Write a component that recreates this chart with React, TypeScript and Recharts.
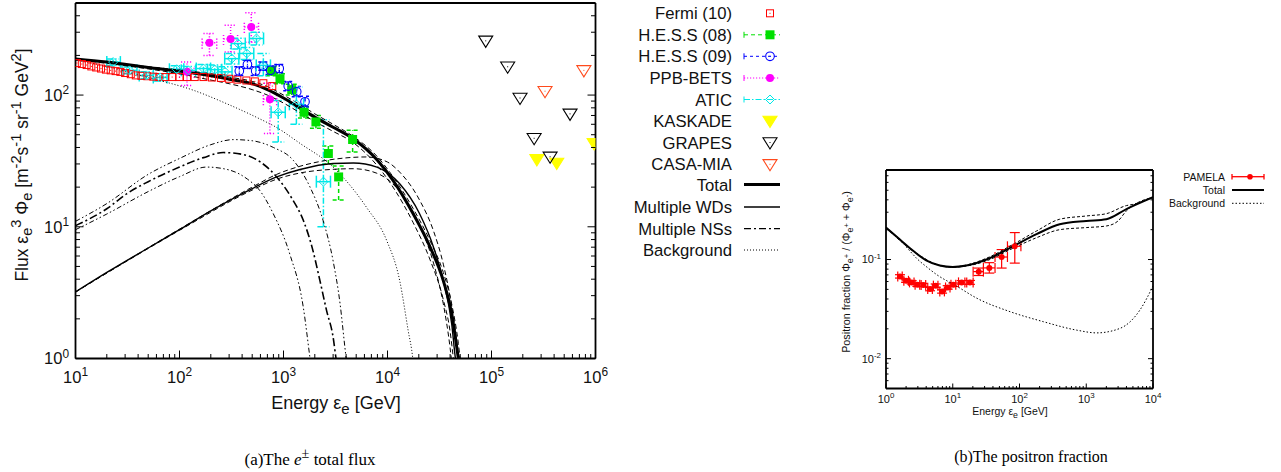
import React from 'react'
import { ComposedChart, Line, Scatter, XAxis, YAxis, ErrorBar } from 'recharts'

const FONT = '"Liberation Sans", Arial, Helvetica, sans-serif'
const SERIF = '"Liberation Serif", "DejaVu Serif", serif'

// ---------------- left panel: e+- total flux ----------------
const fluxXMajor = [10, 100, 1e3, 1e4, 1e5, 1e6]
const fluxYMajor = [1, 10, 100]

const fermiE = [10.3, 11.5, 12.8, 14.2, 15.8, 17.6, 19.6, 21.8, 24.3, 27, 30, 34, 38, 43, 49, 56, 64, 73, 85, 100, 118, 140, 170, 205, 250, 300, 360, 440, 530, 640, 780]
const fermiF = [175, 172, 169, 165, 162, 159, 156, 154, 152, 150, 147, 144, 141, 140, 139, 138, 137, 137, 137, 137, 137, 137, 137, 136, 135, 133, 131, 129, 127, 123, 117]

const hess08E = [770, 925, 1200, 1575, 2050, 2700, 3390, 4620]
const hess08F = [152, 133, 110, 74, 62.5, 36, 23.9, 46]
const hess08Lo = [140, 122, 100, 67, 56, 30, 16, 37]
const hess08Hi = [165, 145, 121, 82, 70, 41, 29, 54]

const hess09E = [376, 450, 540, 640, 750, 910, 1110, 1340, 1610]
const hess09F = [152, 171, 152, 166, 154, 159, 117, 106, 89]
const hess09Lo = [141, 159, 141, 154, 143, 148, 108, 97, 81]
const hess09Hi = [164, 184, 164, 178, 166, 171, 127, 116, 98]

const ppbE = [118, 194, 310, 490, 740]
const ppbF = [150, 250, 266, 329, 93]
const ppbLo = [118, 200, 212, 252, 51]
const ppbHi = [178, 293, 339, 421, 123]
const ppbELo = [100, 165, 265, 420, 640]
const ppbEHi = [138, 228, 362, 575, 860]

const aticE = [23, 33, 48, 65, 94, 122, 170, 218, 274, 318, 367, 443, 550, 640, 890, 1330, 2420]
const aticF = [178, 154, 141, 136, 157, 154, 159, 156, 150, 189, 246, 207, 269, 168, 74, 85, 22]
const aticLo = [168, 145, 133, 128, 148, 144, 148, 144, 137, 172, 224, 186, 240, 140, 44, 60, 10]
const aticHi = [188, 163, 150, 145, 167, 165, 171, 169, 164, 207, 270, 230, 300, 207, 91, 115, 65]
const aticELo = [20, 28, 41, 56, 80, 104, 145, 186, 234, 272, 314, 378, 470, 547, 760, 1140, 2070]
const aticEHi = [27, 39, 56, 76, 110, 143, 199, 255, 320, 372, 429, 518, 643, 749, 1040, 1560, 2830]

const kaskadeE = [273000, 424000, 970000]
const kaskadeF = [32.5, 30.5, 43]
const grapesE = [88000, 143000, 188000, 257000, 366000, 569000]
const grapesF = [258, 164, 95, 47, 34, 72]
const casaE = [327000, 773000]
const casaF = [107, 154]

const total = [[10, 188], [20, 178], [50, 162], [100, 152], [200, 140], [300, 132], [500, 122], [700, 110], [1000, 95], [1500, 78], [2000, 68], [3000, 57], [4600, 47], [8000, 32], [11300, 22.5], [17600, 12.6], [25700, 7.0], [34400, 3.9], [41400, 2.2], [48000, 1.0], [50000, 0.8]]
const totalLow = [[10, 186], [50, 158], [100, 145], [200, 130], [300, 122], [500, 110], [700, 100], [1000, 87], [1500, 72], [2000, 63], [3000, 53], [4600, 44], [8000, 29], [11300, 20], [17600, 10.8], [25700, 5.6], [34400, 2.8], [40000, 1.6], [43000, 1.0], [44000, 0.85]]
const totalUp = [[10, 189], [50, 164], [100, 155], [200, 145], [300, 137], [500, 127], [700, 116], [1000, 100], [1500, 83], [2000, 72], [3000, 60], [4600, 49], [8000, 34], [11300, 24], [17600, 13.8], [25700, 7.8], [34400, 4.5], [41400, 2.6], [48000, 1.3], [51000, 0.85]]
const wd = [[10, 3.2], [20, 4.5], [50, 6.9], [100, 9.5], [200, 13.2], [500, 19.5], [860, 23.9], [1440, 27.2], [3000, 30.2], [4700, 30.5], [7900, 28.4], [13100, 21.2], [20300, 12.6], [27700, 7.0], [34400, 3.9], [41400, 1.84], [45000, 1.0], [47000, 0.8]]
const wdUp = [[10, 3.2], [100, 9.6], [500, 20], [860, 25], [1440, 28.8], [3000, 32.5], [6300, 33.9], [10000, 31], [13100, 26], [20300, 16], [27700, 9.3], [34400, 5.2], [41400, 2.5], [47000, 1.2], [49000, 0.85]]
const wdLow = [[10, 3.2], [100, 9.4], [500, 19], [860, 23], [1440, 25.6], [3000, 27.3], [4700, 27.6], [7900, 25.5], [13100, 18.5], [20300, 10.3], [27700, 5.3], [34400, 2.6], [40000, 1.2], [42000, 0.85]]
const ns = [[10, 10.2], [20, 13.7], [31, 17.8], [50, 22], [100, 28.4], [170, 33.5], [264, 36.6], [400, 35.5], [600, 31], [860, 23.9], [1200, 16.5], [1550, 11.2], [1900, 6.8], [2240, 3.9], [2600, 2.3], [3000, 1.45], [3200, 1.0], [3300, 0.85]]
const nsUp = [[10, 11], [20, 15], [50, 25], [100, 33], [200, 42], [330, 45.9], [500, 45], [800, 40], [1240, 32], [1800, 20], [2400, 11.2], [3000, 5.5], [3500, 2.6], [3900, 1.2], [4100, 0.85]]
const nsLow = [[10, 9.5], [20, 12.5], [50, 18.5], [100, 24], [182, 28.4], [300, 27], [450, 23], [590, 18.9], [800, 12.5], [1150, 6.2], [1550, 2.45], [1800, 1.0], [1850, 0.85]]
const background = [[10, 184], [20, 165], [31, 150], [65, 129], [135, 109], [284, 86], [590, 66], [850, 57], [1440, 43], [3000, 28.4], [6300, 14], [9800, 7.9], [13100, 3.9], [15800, 1.63], [17500, 1.0], [18000, 0.8]]

// ---------------- right panel: positron fraction ----------------
const fracXMajor = [1, 10, 100, 1e3, 1e4]
const fracYMajor = [0.001, 0.01, 0.1]

const pamelaE = [1.62, 2.0, 2.43, 2.95, 3.63, 4.57, 5.55, 6.92, 8.4, 10.2, 13.6, 18.1, 24.5, 35.3, 54, 85]
const pamelaF = [0.0676, 0.061, 0.0588, 0.0557, 0.0553, 0.0503, 0.0545, 0.0477, 0.0523, 0.0557, 0.0588, 0.0588, 0.0755, 0.0823, 0.106, 0.136]
const pamelaLo = [0.065, 0.0588, 0.0566, 0.0536, 0.0532, 0.0484, 0.0524, 0.0458, 0.0502, 0.0535, 0.0564, 0.0562, 0.069, 0.073, 0.082, 0.092]
const pamelaHi = [0.0703, 0.0634, 0.0611, 0.0579, 0.0575, 0.0523, 0.0567, 0.0496, 0.0545, 0.058, 0.0613, 0.0615, 0.082, 0.093, 0.126, 0.187]
const pamelaELo = [1.5, 1.85, 2.25, 2.73, 3.36, 4.22, 5.13, 6.4, 7.8, 9.4, 12.2, 16.2, 20.2, 28.8, 43, 66]
const pamelaEHi = [1.75, 2.17, 2.63, 3.2, 3.93, 4.95, 6.0, 7.5, 9.1, 11.1, 15.2, 20.2, 28.8, 43, 66, 105]

const fracTotal = [[1, 0.21], [1.6, 0.16], [2.6, 0.121], [4, 0.098], [6.4, 0.087], [10, 0.084], [16, 0.087], [32, 0.1], [80, 0.136], [180, 0.18], [400, 0.227], [1000, 0.245], [2000, 0.255], [4000, 0.323], [10000, 0.425]]
const fracUp = [[1, 0.21], [2.6, 0.121], [6.4, 0.087], [10, 0.084], [16, 0.088], [32, 0.103], [80, 0.142], [180, 0.194], [400, 0.255], [1000, 0.275], [2000, 0.29], [4000, 0.35], [5000, 0.36], [10000, 0.425]]
const fracLow = [[1, 0.21], [2.6, 0.121], [6.4, 0.087], [10, 0.084], [16, 0.086], [32, 0.097], [80, 0.13], [180, 0.166], [400, 0.2], [1000, 0.21], [2000, 0.218], [3000, 0.245], [4000, 0.31], [5000, 0.35], [10000, 0.425]]
const fracBg = [[1, 0.21], [1.6, 0.16], [2.3, 0.121], [3, 0.1], [4, 0.085], [5.75, 0.0704], [11.5, 0.0538], [22.8, 0.0408], [72, 0.0298], [228, 0.0236], [719, 0.0194], [1435, 0.0182], [3200, 0.0202], [6380, 0.031], [10000, 0.054]]

// ---------------- helpers ----------------
const xy = (a: number[][]) => a.map(([x, y]) => ({ x, y }))
const pts = (E: number[], F: number[], lo?: number[], hi?: number[], el?: number[], eh?: number[]) =>
  E.map((x, i) => ({
    x,
    y: F[i],
    ey: lo && hi ? [F[i] - lo[i], hi[i] - F[i]] : [0, 0],
    ex: el && eh ? [x - el[i], eh[i] - x] : [0, 0],
  }))

const logTicks = (majors: number[], lo: number, hi: number) => {
  const out: number[] = []
  majors.forEach((m) => {
    for (let k = 1; k < 10; k++) {
      const v = m * k
      if (v >= lo * 0.9999 && v <= hi * 1.0001) out.push(v)
    }
  })
  return out
}

function LogTick(props: any) {
  const { x, y, payload, side, big, small, fs, gap } = props
  const lg = Math.log10(payload.value)
  const major = Math.abs(lg - Math.round(lg)) < 1e-6
  const len = major ? big : small
  const e = Math.round(lg)
  const sup = (
    <tspan dy={-fs * 0.42} fontSize={fs * 0.72}>
      {e}
    </tspan>
  )
  const txt = { fontSize: fs, fontFamily: FONT, fill: '#111' }
  if (side === 'bottom')
    return (
      <g>
        <line x1={x} x2={x} y1={y} y2={y - len} stroke="#000" />
        {major && <text x={x} y={y + gap} textAnchor="middle" {...txt}>10{sup}</text>}
      </g>
    )
  if (side === 'left')
    return (
      <g>
        <line x1={x} x2={x + len} y1={y} y2={y} stroke="#000" />
        {major && <text x={x - gap} y={y + fs * 0.36} textAnchor="end" {...txt}>10{sup}</text>}
      </g>
    )
  if (side === 'top') return <line x1={x} x2={x} y1={y} y2={y + len} stroke="#000" />
  return <line x1={x} x2={x - len} y1={y} y2={y} stroke="#000" />
}

const tick = (side: string, big: number, small: number, fs = 0, gap = 0) => (p: any) =>
  <LogTick {...p} side={side} big={big} small={small} fs={fs} gap={gap} />

// markers
const sqOpen = (cx: number, cy: number, c: string) => (
  <g>
    <rect x={cx - 3.5} y={cy - 3.5} width={7} height={7} fill="none" stroke={c} strokeWidth={1} />
    <rect x={cx - 0.5} y={cy - 0.5} width={1} height={1} fill={c} />
  </g>
)
const sqFill = (cx: number, cy: number, c: string) => <rect x={cx - 4.5} y={cy - 4.5} width={9} height={9} fill={c} />
const circOpen = (cx: number, cy: number, c: string) => (
  <g>
    <circle cx={cx} cy={cy} r={4.3} fill="none" stroke={c} strokeWidth={1.1} />
    <rect x={cx - 0.5} y={cy - 0.5} width={1} height={1} fill={c} />
  </g>
)
const circFill = (cx: number, cy: number, c: string, r = 4) => <circle cx={cx} cy={cy} r={r} fill={c} />
const diamond = (cx: number, cy: number, c: string) => (
  <g>
    <path d={`M${cx} ${cy - 4.5}L${cx + 4.5} ${cy}L${cx} ${cy + 4.5}L${cx - 4.5} ${cy}Z`} fill="none" stroke={c} strokeWidth={1} />
    <rect x={cx - 0.5} y={cy - 0.5} width={1} height={1} fill={c} />
  </g>
)
const triDown = (cx: number, cy: number, c: string, filled: boolean) => (
  <g>
    <path d={`M${cx - 7} ${cy - 4.7}L${cx + 7} ${cy - 4.7}L${cx} ${cy + 6.5}Z`} fill={filled ? c : 'none'} stroke={c} strokeWidth={1.1} />
    {!filled && <rect x={cx - 0.5} y={cy - 0.5} width={1} height={1} fill={c} />}
  </g>
)

const RED = '#ff0000'
const GREEN = '#00e000'
const BLUE = '#0000ff'
const MAGENTA = '#ff00ff'
const CYAN = '#00e8e8'
const YELLOW = '#ffff00'
const ORANGE = '#ff4a1c'

const legendLeft = [
  { label: 'Fermi (10)', kind: 'fermi' },
  { label: 'H.E.S.S (08)', kind: 'hess08' },
  { label: 'H.E.S.S (09)', kind: 'hess09' },
  { label: 'PPB-BETS', kind: 'ppb' },
  { label: 'ATIC', kind: 'atic' },
  { label: 'KASKADE', kind: 'kaskade' },
  { label: 'GRAPES', kind: 'grapes' },
  { label: 'CASA-MIA', kind: 'casa' },
  { label: 'Total', kind: 'total' },
  { label: 'Multiple WDs', kind: 'wd' },
  { label: 'Multiple NSs', kind: 'ns' },
  { label: 'Background', kind: 'bg' },
]
const legendLeftY = [13.3, 34.8, 56.3, 78, 99.5, 121, 142.5, 164.3, 184.5, 207, 228.7, 250]

function legendSymbol(kind: string, y: number) {
  const x0 = 744, x1 = 780, m = 770
  const bar = (c: string, dash: string) => (
    <g stroke={c} strokeWidth={1}>
      <line x1={x0} x2={x1} y1={y} y2={y} strokeDasharray={dash} />
      <line x1={x0} x2={x0} y1={y - 3} y2={y + 3} />
    </g>
  )
  switch (kind) {
    case 'fermi': return sqOpen(m, y, RED)
    case 'hess08': return <g>{bar(GREEN, '4 3')}{sqFill(m, y, GREEN)}</g>
    case 'hess09': return <g>{bar(BLUE, '3 3')}{circOpen(m, y, BLUE)}</g>
    case 'ppb': return <g>{bar(MAGENTA, '1.2 1.8')}{circFill(m, y, MAGENTA)}</g>
    case 'atic': return <g>{bar(CYAN, '6 2 1.5 2')}{diamond(m, y, CYAN)}</g>
    case 'kaskade': return triDown(m, y, YELLOW, true)
    case 'grapes': return triDown(m, y, '#000', false)
    case 'casa': return triDown(m, y, ORANGE, false)
    case 'total': return <line x1={x0} x2={x1} y1={y} y2={y} stroke="#000" strokeWidth={2.8} />
    case 'wd': return <line x1={x0} x2={x1} y1={y} y2={y} stroke="#000" strokeWidth={1.3} />
    case 'ns': return <line x1={x0} x2={x1} y1={y} y2={y} stroke="#000" strokeWidth={1.3} strokeDasharray="7 3 2 3" />
    default: return <line x1={x0} x2={x1} y1={y} y2={y} stroke="#000" strokeWidth={1} strokeDasharray="1 2" />
  }
}

const line = (data: number[][], width: number, dash?: string, key?: string) => (
  <Line
    key={key}
    data={xy(data)}
    dataKey="y"
    xAxisId="b"
    yAxisId="l"
    type="monotone"
    stroke="#000"
    strokeWidth={width}
    strokeDasharray={dash}
    dot={false}
    activeDot={false}
    isAnimationActive={false}
  />
)

export default function App() {
  const fluxXTicks = logTicks(fluxXMajor, 10, 1e6)
  const fluxYTicks = logTicks(fluxYMajor, 1, 500)
  const fracXTicks = logTicks(fracXMajor, 1, 1e4)
  const fracYTicks = logTicks(fracYMajor, 0.005, 0.8)
  const axisLine = { stroke: '#000', strokeWidth: 1.8 }

  return (
    <div style={{ position: 'absolute', left: 0, top: 0, width: 1281, height: 472, background: '#fff', fontFamily: FONT }}>
      {/* left chart */}
      <div style={{ position: 'absolute', left: 0, top: 0 }}>
        <ComposedChart width={620} height={420} margin={{ top: 2, right: 23.5, bottom: 1.5, left: 0 }}>
          <XAxis xAxisId="b" dataKey="x" type="number" scale="log" domain={[10, 1e6]} allowDataOverflow ticks={fluxXTicks} interval={0} height={60} tickSize={0} tickMargin={0} tickLine={false} axisLine={axisLine} tick={tick('bottom', 8, 4.5, 16.5, 24.5)} />
          <XAxis xAxisId="t" orientation="top" type="number" scale="log" domain={[10, 1e6]} allowDataOverflow ticks={fluxXTicks} interval={0} height={1} tickSize={0} tickMargin={0} tickLine={false} axisLine={axisLine} tick={tick('top', 8, 4.5)} />
          <YAxis yAxisId="l" dataKey="y" type="number" scale="log" domain={[1, 500]} allowDataOverflow ticks={fluxYTicks} interval={0} width={75.5} tickSize={0} tickMargin={0} tickLine={false} axisLine={axisLine} tick={tick('left', 8, 4.5, 16.5, 6.5)} />
          <YAxis yAxisId="r" orientation="right" type="number" scale="log" domain={[1, 500]} allowDataOverflow ticks={fluxYTicks} interval={0} width={1} tickSize={0} tickMargin={0} tickLine={false} axisLine={axisLine} tick={tick('right', 8, 4.5)} />

          <Scatter data={pts(fermiE, fermiF)} xAxisId="b" yAxisId="l" isAnimationActive={false} shape={(p: any) => sqOpen(p.cx, p.cy, RED)} />
          <Scatter data={pts(hess08E, hess08F, hess08Lo, hess08Hi)} xAxisId="b" yAxisId="l" isAnimationActive={false} shape={(p: any) => sqFill(p.cx, p.cy, GREEN)}>
            <ErrorBar dataKey="ey" direction="y" width={6} stroke={GREEN} strokeDasharray="4 3" isAnimationActive={false} />
          </Scatter>
          <Scatter data={pts(hess09E, hess09F, hess09Lo, hess09Hi)} xAxisId="b" yAxisId="l" isAnimationActive={false} shape={(p: any) => circOpen(p.cx, p.cy, BLUE)}>
            <ErrorBar dataKey="ey" direction="y" width={5} stroke={BLUE} strokeDasharray="3 3" isAnimationActive={false} />
          </Scatter>
          <Scatter data={pts(ppbE, ppbF, ppbLo, ppbHi, ppbELo, ppbEHi)} xAxisId="b" yAxisId="l" isAnimationActive={false} shape={(p: any) => circFill(p.cx, p.cy, MAGENTA)}>
            <ErrorBar dataKey="ey" direction="y" width={6} stroke={MAGENTA} strokeDasharray="1.2 1.8" isAnimationActive={false} />
            <ErrorBar dataKey="ex" direction="x" width={6} stroke={MAGENTA} strokeDasharray="1.2 1.8" isAnimationActive={false} />
          </Scatter>
          <Scatter data={pts(aticE, aticF, aticLo, aticHi, aticELo, aticEHi)} xAxisId="b" yAxisId="l" isAnimationActive={false} shape={(p: any) => diamond(p.cx, p.cy, CYAN)}>
            <ErrorBar dataKey="ey" direction="y" width={6} stroke={CYAN} strokeDasharray="6 2 1.5 2" isAnimationActive={false} />
            <ErrorBar dataKey="ex" direction="x" width={6} stroke={CYAN} isAnimationActive={false} />
          </Scatter>
          <Scatter data={pts(kaskadeE, kaskadeF)} xAxisId="b" yAxisId="l" isAnimationActive={false} shape={(p: any) => triDown(p.cx, p.cy, YELLOW, true)} />
          <Scatter data={pts(grapesE, grapesF)} xAxisId="b" yAxisId="l" isAnimationActive={false} shape={(p: any) => triDown(p.cx, p.cy, '#000', false)} />
          <Scatter data={pts(casaE, casaF)} xAxisId="b" yAxisId="l" isAnimationActive={false} shape={(p: any) => triDown(p.cx, p.cy, ORANGE, false)} />

          {line(background, 1, '1 2', 'bg')}
          {line(nsUp, 1, '5 2.5 1.5 2.5 1.5 2.5', 'nsu')}
          {line(nsLow, 1, '5 2.5 1.5 2.5 1.5 2.5', 'nsl')}
          {line(ns, 1.6, '8 3 2 3', 'ns')}
          {line(wdUp, 1, '5 3', 'wdu')}
          {line(wdLow, 1, '5 3', 'wdl')}
          {line(wd, 1.4, undefined, 'wd')}
          {line(totalUp, 1, '5 3', 'tu')}
          {line(totalLow, 1, '5 3', 'tl')}
          {line(total, 3, undefined, 'tot')}
        </ComposedChart>
      </div>

      {/* right chart */}
      <div style={{ position: 'absolute', left: 820, top: 150 }}>
        <ComposedChart width={460} height={270} margin={{ top: 19, right: 126, bottom: 1.5, left: 0 }}>
          <XAxis xAxisId="b" dataKey="x" type="number" scale="log" domain={[1, 1e4]} allowDataOverflow ticks={fracXTicks} interval={0} height={30} tickSize={0} tickMargin={0} tickLine={false} axisLine={axisLine} tick={tick('bottom', 5, 2.5, 11, 14)} />
          <XAxis xAxisId="t" orientation="top" type="number" scale="log" domain={[1, 1e4]} allowDataOverflow ticks={fracXTicks} interval={0} height={1} tickSize={0} tickMargin={0} tickLine={false} axisLine={axisLine} tick={tick('top', 5, 2.5)} />
          <YAxis yAxisId="l" dataKey="y" type="number" scale="log" domain={[0.005, 0.8]} allowDataOverflow ticks={fracYTicks} interval={0} width={66} tickSize={0} tickMargin={0} tickLine={false} axisLine={axisLine} tick={tick('left', 5, 2.5, 11, 5)} />
          <YAxis yAxisId="r" orientation="right" type="number" scale="log" domain={[0.005, 0.8]} allowDataOverflow ticks={fracYTicks} interval={0} width={1} tickSize={0} tickMargin={0} tickLine={false} axisLine={axisLine} tick={tick('right', 5, 2.5)} />

          <Scatter data={pts(pamelaE, pamelaF, pamelaLo, pamelaHi, pamelaELo, pamelaEHi)} xAxisId="b" yAxisId="l" isAnimationActive={false} shape={(p: any) => circFill(p.cx, p.cy, RED, 3)}>
            <ErrorBar dataKey="ey" direction="y" width={5} stroke={RED} strokeWidth={1.2} isAnimationActive={false} />
            <ErrorBar dataKey="ex" direction="x" width={5} stroke={RED} strokeWidth={1.2} isAnimationActive={false} />
          </Scatter>

          {line(fracBg, 1, '1.5 2', 'fbg')}
          {line(fracUp, 1, '3 2', 'fu')}
          {line(fracLow, 1, '3 2', 'fl')}
          {line(fracTotal, 2, undefined, 'ft')}
        </ComposedChart>
      </div>

      {/* legends */}
      <svg width={1281} height={472} style={{ position: 'absolute', left: 0, top: 0, pointerEvents: 'none' }}>
        {legendLeft.map((l, i) => (
          <g key={l.kind}>
            <text x={732} y={legendLeftY[i] + 6} textAnchor="end" fontSize={16.7} fontFamily={FONT} fill="#111">{l.label}</text>
            {legendSymbol(l.kind, legendLeftY[i])}
          </g>
        ))}
        <g fontSize={10.5} fontFamily={FONT} fill="#111">
          <text x={1225} y={180.5} textAnchor="end">PAMELA</text>
          <text x={1225} y={193.8} textAnchor="end">Total</text>
          <text x={1225} y={207.1} textAnchor="end">Background</text>
        </g>
        <g stroke={RED} strokeWidth={1.3}>
          <line x1={1232} x2={1264} y1={176.7} y2={176.7} />
          <line x1={1232} x2={1232} y1={174} y2={179.4} />
          <line x1={1264} x2={1264} y1={174} y2={179.4} />
        </g>
        <circle cx={1250} cy={176.7} r={2.8} fill={RED} />
        <line x1={1232} x2={1264} y1={190} y2={190} stroke="#000" strokeWidth={2} />
        <line x1={1232} x2={1264} y1={203.3} y2={203.3} stroke="#000" strokeWidth={1} strokeDasharray="1.5 2" />
      </svg>

      {/* axis titles */}
      <div style={{ position: 'absolute', left: 336, top: 405, transform: 'translate(-50%,-50%)', fontSize: 18, whiteSpace: 'nowrap', color: '#111', lineHeight: 1 }}>
        Energy ε<sub>e</sub> [GeV]
      </div>
      <div style={{ position: 'absolute', left: 22, top: 165, transform: 'translate(-50%,-50%) rotate(-90deg)', fontSize: 17.5, whiteSpace: 'nowrap', color: '#111', lineHeight: 1 }}>
        Flux ε<sub>e</sub><sup>3</sup> Φ<sub>e</sub> [m<sup>-2</sup>s<sup>-1</sup> sr<sup>-1</sup> GeV<sup>2</sup>]
      </div>
      <div style={{ position: 'absolute', left: 1010, top: 413, transform: 'translate(-50%,-50%)', fontSize: 10.5, whiteSpace: 'nowrap', color: '#111', lineHeight: 1 }}>
        Energy ε<sub>e</sub> [GeV]
      </div>
      <div style={{ position: 'absolute', left: 848, top: 272, transform: 'translate(-50%,-50%) rotate(-90deg)', fontSize: 10.8, whiteSpace: 'nowrap', color: '#111', lineHeight: 1 }}>
        Positron fraction Φ<sub>e<sup>+</sup></sub> / (Φ<sub>e<sup>+</sup></sub> + Φ<sub>e<sup>-</sup></sub>)
      </div>

      {/* captions */}
      <div style={{ position: 'absolute', left: 310, top: 457, transform: 'translate(-50%,-50%)', fontFamily: SERIF, fontSize: 17, whiteSpace: 'nowrap', lineHeight: 1 }}>
        (a)The <i>e</i><sup>±</sup> total flux
      </div>
      <div style={{ position: 'absolute', left: 1031, top: 457, transform: 'translate(-50%,-50%)', fontFamily: SERIF, fontSize: 16, whiteSpace: 'nowrap', lineHeight: 1 }}>
        (b)The positron fraction
      </div>
    </div>
  )
}
